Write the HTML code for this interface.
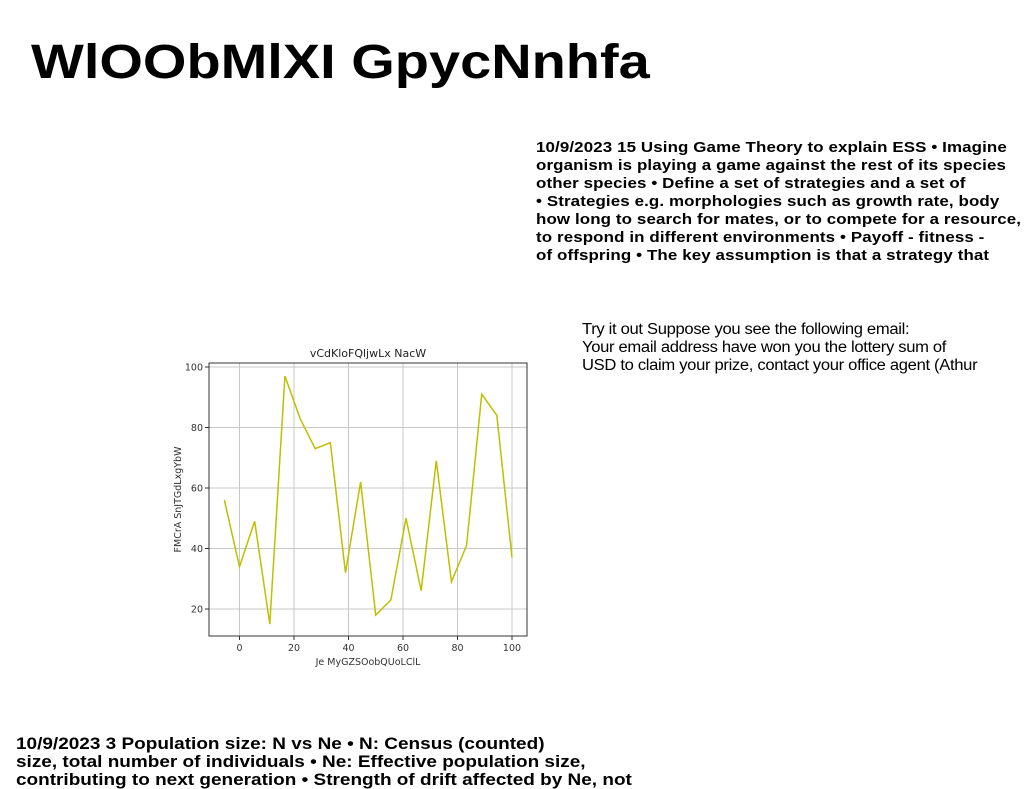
<!DOCTYPE html>
<html><head><meta charset="utf-8"><style>
body{margin:0;width:1024px;height:788px;background:#fff;position:relative;overflow:hidden;font-family:"Liberation Sans",sans-serif;}
.t{position:absolute;white-space:nowrap;color:#000;transform-origin:0 0;}
</style></head><body>
<div class="t" style="left:31px;top:34px;font-size:48px;font-weight:bold;line-height:58px;transform:scaleX(1.166);">WlOObMlXI GpycNnhfa</div>
<div class="t" style="left:536px;top:139px;font-size:14.5px;font-weight:bold;line-height:18px;letter-spacing:0.1px;transform:scaleX(1.166);">10/9/2023 15 Using Game Theory to explain ESS • Imagine<br>organism is playing a game against the rest of its species<br>other species • Define a set of strategies and a set of<br>• Strategies e.g. morphologies such as growth rate, body<br>how long to search for mates, or to compete for a resource,<br>to respond in different environments • Payoff - fitness -<br>of offspring • The key assumption is that a strategy that</div>
<div class="t" style="left:582px;top:321px;font-size:15.5px;line-height:18px;letter-spacing:-0.3px;transform:scaleX(1.07);">Try it out Suppose you see the following email:<br>Your email address have won you the lottery sum of<br>USD to claim your prize, contact your office agent (Athur</div>
<div class="t" style="left:16px;top:735px;font-size:17px;font-weight:bold;line-height:18px;transform:scaleX(1.116);">10/9/2023 3 Population size: N vs Ne • N: Census (counted)<br>size, total number of individuals • Ne: Effective population size,<br>contributing to next generation • Strength of drift affected by Ne, not</div>
<svg id="chart" width="1024" height="788" style="position:absolute;left:0;top:0" font-family="DejaVu Sans, Liberation Sans, sans-serif"></svg>
<script>
const xValues=[-5.56,0,5.56,11.11,16.67,22.22,27.78,33.33,38.89,44.44,50,55.56,61.11,66.67,72.22,77.78,83.33,88.89,94.44,100];
const yValues=[56,34,49,15,97,83,73,75,32,62,18,23,50,26,69,29,41,91,84,37];
const xTicks=[0,20,40,60,80,100];
const yTicks=[20,40,60,80,100];
const svg=document.getElementById('chart');
const NS='http://www.w3.org/2000/svg';
const L=209,R=527,T=363,B=636;
const xs=v=>239.5+(v-0)*2.725;
const ys=v=>367+(100-v)*3.025;
function mk(tag,attrs){const e=document.createElementNS(NS,tag);for(const k in attrs)e.setAttribute(k,attrs[k]);svg.appendChild(e);return e;}
xTicks.forEach(t=>{
 const g=mk('line',{x1:xs(t),x2:xs(t),y1:T,y2:B,stroke:'#c8c8c8','stroke-width':1});
 
 
 const tk=mk('line',{x1:xs(t),x2:xs(t),y1:B,y2:B+4,stroke:'#333'});
 
 
 const tx=mk('text',{x:xs(t),y:B+15,'font-size':9.5,'text-anchor':'middle',fill:'#333'});
 tx.textContent=t;
 
 
});
yTicks.forEach(t=>{
 const g=mk('line',{x1:L,x2:R,y1:ys(t),y2:ys(t),stroke:'#c8c8c8','stroke-width':1});
 
 
 const tk=mk('line',{x1:L-4,x2:L,y1:ys(t),y2:ys(t),stroke:'#333'});
 
 
 const tx=mk('text',{x:L-6,y:ys(t)+3.5,'font-size':9.5,'text-anchor':'end',fill:'#333'});
 tx.textContent=t;
 
 
});
const fr=mk('rect',{x:L,y:T,width:R-L,height:B-T,fill:'none',stroke:'#333','stroke-width':1});


const pl=mk('polyline',{points:xValues.map((x,i)=>xs(x)+','+ys(yValues[i])).join(' '),fill:'none',stroke:'#bfbf00','stroke-width':1.5});


const ti=mk('text',{x:(L+R)/2,y:357,'font-size':11,'text-anchor':'middle',fill:'#222'});
ti.textContent='vCdKloFQljwLx NacW';


const xl=mk('text',{x:(L+R)/2,y:665,'font-size':9.5,'text-anchor':'middle',fill:'#333'});
xl.textContent='Je MyGZSOobQUoLClL';


const yl=mk('text',{x:0,y:0,'font-size':9.5,'text-anchor':'middle',fill:'#333',transform:'translate(181,'+((T+B)/2)+') rotate(-90)'});
yl.textContent='FMCrA SnJTGdLxgYbW';


</script>
</body></html>
